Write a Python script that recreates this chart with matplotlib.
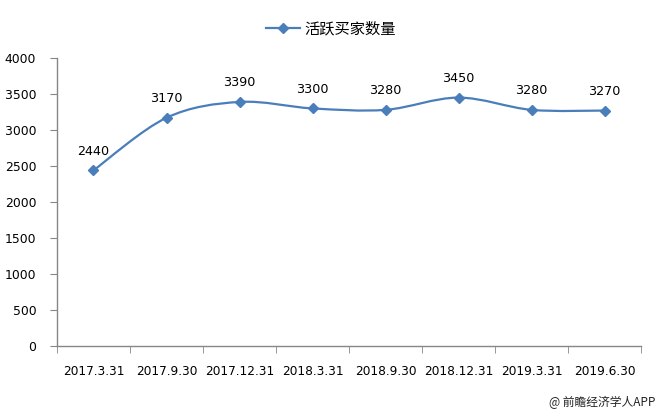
"""Active buyers line chart (smoothed Excel-style line with diamond markers)."""

import matplotlib

matplotlib.use("Agg")
import matplotlib.pyplot as plt  # noqa: E402
from matplotlib.path import Path  # noqa: E402
from matplotlib.patches import PathPatch  # noqa: E402

plt.rcParams["font.family"] = ["DejaVu Sans", "Noto Sans CJK SC"]

LINE, AXIS, INK = "#4a7ebb", "#868686", "#000000"

dates = ["2017.3.31", "2017.9.30", "2017.12.31", "2018.3.31",
         "2018.9.30", "2018.12.31", "2019.3.31", "2019.6.30"]
buyers = [2440, 3170, 3390, 3300, 3280, 3450, 3280, 3270]
series_name = "活跃买家数量"
yticks = [0, 500, 1000, 1500, 2000, 2500, 3000, 3500, 4000]


def smooth_path(xs, ys, k=1 / 6):
    """Catmull-Rom style bezier through the points, like Excel's smoothed line."""
    pts = list(zip(xs, ys))
    verts, codes = [pts[0]], [Path.MOVETO]
    for i in range(len(pts) - 1):
        p0 = pts[i - 1] if i > 0 else pts[i]
        p1, p2 = pts[i], pts[i + 1]
        p3 = pts[i + 2] if i + 2 < len(pts) else pts[i + 1]
        c1 = (p1[0] + (p2[0] - p0[0]) * k, p1[1] + (p2[1] - p0[1]) * k)
        c2 = (p2[0] - (p3[0] - p1[0]) * k, p2[1] - (p3[1] - p1[1]) * k)
        verts += [c1, c2, p2]
        codes += [Path.CURVE4] * 3
    return Path(verts, codes)


def main():
    fig = plt.figure(figsize=(6.62, 4.12), dpi=100)
    ax = fig.add_axes([0.0861, 0.1602, 0.8822, 0.699])
    x = list(range(len(dates)))

    ax.add_patch(PathPatch(smooth_path(x, buyers), fill=False, ec=LINE, lw=1.6, zorder=3))
    ax.plot(x, buyers, ls="none", marker="D", ms=5, color=LINE, zorder=4)
    # legend proxy
    ax.plot([], [], "-", marker="D", ms=5, lw=1.6, color=LINE, label=series_name)
    for xi, v in zip(x, buyers):
        ax.annotate(f"{v}", (xi, v), xytext=(0, 9), textcoords="offset points",
                    ha="center", va="bottom", fontsize=9.2, color=INK)

    ax.set_xlim(-0.5, len(dates) - 0.5)
    ax.set_ylim(0, 4000)
    ax.set_yticks(yticks)
    ax.set_xticks(x)
    ax.set_xticklabels(dates, fontsize=8.7)
    ax.set_xticks([i - 0.5 for i in range(len(dates) + 1)], minor=True)
    ax.tick_params(axis="x", which="major", length=0, pad=14)
    ax.tick_params(axis="x", which="minor", length=5, color=AXIS, direction="out")
    ax.tick_params(axis="y", length=5, color=AXIS, labelsize=8.9, pad=10)
    for s in ("top", "right"):
        ax.spines[s].set_visible(False)
    for s in ("left", "bottom"):
        ax.spines[s].set_color(AXIS)
        ax.spines[s].set_linewidth(1)

    fig.legend(loc="upper center", bbox_to_anchor=(0.5, 0.985), frameon=False,
               handlelength=2.2, handletextpad=0.3,
               prop={"family": ["Noto Sans CJK SC"], "size": 11})
    fig.text(0.99, 0.024, "@ 前瞻经济学人APP", ha="right", va="center", fontsize=8.5,
             family=["Noto Sans CJK SC", "DejaVu Sans"], color="#222222")

    fig.savefig("out.png", dpi=100, facecolor="white")
    plt.close(fig)


if __name__ == "__main__":
    main()
